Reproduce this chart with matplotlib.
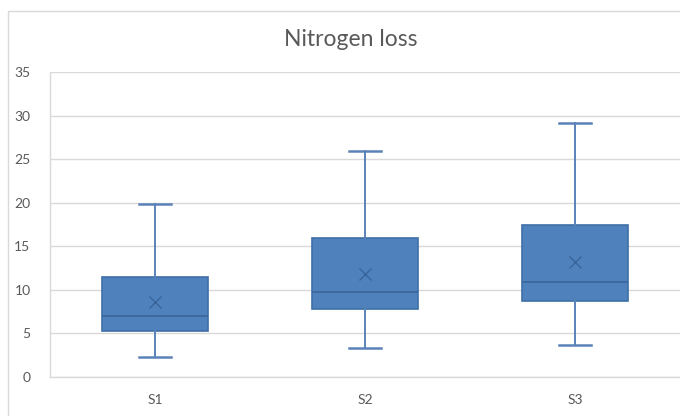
import matplotlib.pyplot as plt
from matplotlib.patches import Rectangle

categories = ["S1", "S2", "S3"]
whisker_low = [2.3, 3.3, 3.7]
q1 = [5.3, 7.8, 8.7]
median = [7.0, 9.8, 10.9]
q3 = [11.5, 15.9, 17.4]
whisker_high = [19.9, 25.9, 29.2]
means = [8.6, 11.8, 13.2]

plt.rcParams['font.family'] = ['Lato', 'DejaVu Sans']

fig = plt.figure(figsize=(6.8, 4.16), dpi=100)
ax = fig.add_axes([50/680, 39/416, 630/680, 305/416])

# outer chart border (cropped at right/bottom)
fig.patches.append(Rectangle((8/680, -0.1), 1.0, (416-11)/416 + 0.1,
                             transform=fig.transFigure, fill=False,
                             edgecolor="#d9d9d9", lw=1))

stats = []
for i, name in enumerate(categories):
    stats.append(dict(label=name, whislo=whisker_low[i], q1=q1[i],
                      med=median[i], q3=q3[i], whishi=whisker_high[i],
                      mean=means[i], fliers=[]))

positions = range(len(categories))
ax.bxp(stats, positions=positions, widths=0.505, patch_artist=True,
       showmeans=True, showfliers=False,
       boxprops=dict(facecolor="#4f81bd", edgecolor="#3f6fa6", lw=1.2),
       medianprops=dict(color="#3a659a", lw=1.2),
       whiskerprops=dict(color="#5a82b8", lw=1.4),
       capprops=dict(color="#5a82b8", lw=1.8),
       capwidths=0.15,
       meanprops=dict(marker="x", markeredgecolor="#3a659a",
                      markersize=9, markeredgewidth=1.0))

ax.set_xlim(-0.5, 2.5)
ax.set_ylim(0, 35)
ax.set_yticks(range(0, 36, 5))
ax.yaxis.grid(True, color="#d9d9d9", lw=1)
ax.set_axisbelow(True)

for s in ["top", "right"]:
    ax.spines[s].set_visible(False)
for s in ["left", "bottom"]:
    ax.spines[s].set_color("#d9d9d9")
    ax.spines[s].set_linewidth(1)

ax.tick_params(axis="both", length=0, colors="#595959", labelsize=10)
ax.tick_params(axis="y", pad=14)
ax.tick_params(axis="x", pad=12)
ax.set_xticks(list(positions))
ax.set_xticklabels(categories)

fig.text(351/680, 1 - 40/416, "Nitrogen loss", ha="center", va="center",
         fontsize=16.5, color="#595959")

fig.savefig("out.png", dpi=100)
